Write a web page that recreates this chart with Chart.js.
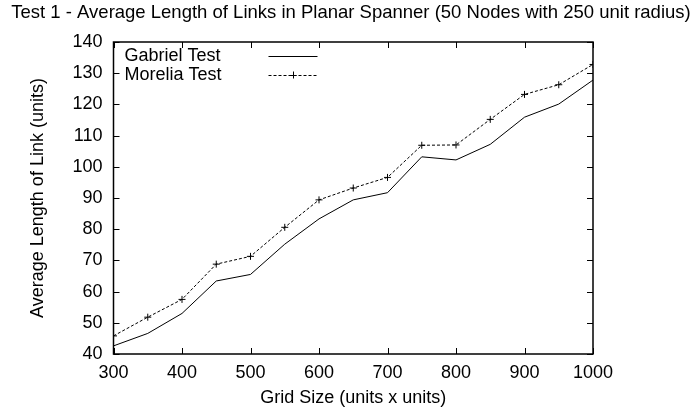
<!DOCTYPE html>
<html>
<head>
<meta charset="utf-8">
<script src="https://cdn.jsdelivr.net/npm/chart.js@4/dist/chart.umd.min.js"></script>
<style>
  html, body { margin: 0; padding: 0; background: #fff; }
  #wrap { width: 694px; height: 413px; }
</style>
</head>
<body>
<div id="wrap"><canvas id="c" width="694" height="413"></canvas></div>
<script>
const chartTitle = "Test 1 - Average Length of Links in Planar Spanner (50 Nodes with 250 unit radius)";
const xAxisTitle = "Grid Size (units x units)";
const yAxisTitle = "Average Length of Link (units)";
const seriesNames = ["Gabriel Test", "Morelia Test"];
const gridSizes = [300, 350, 400, 450, 500, 550, 600, 650, 700, 750, 800, 850, 900, 950, 1000];
const gabriel = [42.6, 46.6, 53.0, 63.4, 65.5, 75.2, 83.3, 89.4, 91.7, 103.2, 102.2, 107.2, 115.9, 120.1, 127.8];
const morelia = [45.8, 51.8, 57.5, 68.8, 71.3, 80.6, 89.4, 93.2, 96.6, 106.9, 107.0, 115.2, 123.2, 126.3, 132.8];
const xMin = 300, xMax = 1000, xStep = 100;
const yMin = 40, yMax = 140, yStep = 10;

const FONT = "'Liberation Sans', Arial, sans-serif";
const FS = 18;

const toPts = (vals) => vals.map((v, i) => ({ x: gridSizes[i], y: v }));

const gnuplotDecor = {
  id: 'gnuplotDecor',
  afterDatasetsDraw(chart) {
    const ctx = chart.ctx;
    const a = chart.chartArea;
    const xs = chart.scales.x, ys = chart.scales.y;
    ctx.save();
    ctx.strokeStyle = '#000';
    ctx.lineWidth = 1;
    const tl = 6;
    xs.ticks.forEach(t => {
      const px = Math.round(xs.getPixelForValue(t.value)) + 0.5;
      ctx.beginPath();
      ctx.moveTo(px, a.bottom); ctx.lineTo(px, a.bottom - tl);
      ctx.moveTo(px, a.top); ctx.lineTo(px, a.top + tl);
      ctx.stroke();
    });
    ys.ticks.forEach(t => {
      const py = Math.round(ys.getPixelForValue(t.value)) + 0.5;
      ctx.beginPath();
      ctx.moveTo(a.left, py); ctx.lineTo(a.left + tl, py);
      ctx.moveTo(a.right, py); ctx.lineTo(a.right - tl, py);
      ctx.stroke();
    });
    ctx.lineWidth = 1.5;
    ctx.strokeRect(a.left, a.top, a.right - a.left, a.bottom - a.top);

    ctx.fillStyle = '#000';
    ctx.font = '18.5px ' + FONT;
    ctx.textAlign = 'center';
    ctx.textBaseline = 'middle';
    ctx.fillText(chartTitle, 351, 13);

    ctx.font = FS + 'px ' + FONT;
    const ds = chart.data.datasets;
    const rowY = [a.top + 14, a.top + 33];
    const textX = a.left + 11;
    const sx0 = a.left + 155, sx1 = a.left + 204;
    ds.forEach((d, i) => {
      const y = rowY[i];
      ctx.fillStyle = '#000';
      ctx.textAlign = 'left';
      ctx.textBaseline = 'middle';
      ctx.fillText(d.label, textX, y);
      ctx.strokeStyle = d.borderColor;
      ctx.lineWidth = d.borderWidth;
      ctx.setLineDash(d.borderDash || []);
      ctx.beginPath();
      ctx.moveTo(sx0, y + 0.5); ctx.lineTo(sx1, y + 0.5);
      ctx.stroke();
      ctx.setLineDash([]);
      if (d.pointRadius > 0) {
        const cx = (sx0 + sx1) / 2, r = d.pointRadius;
        ctx.lineWidth = 1;
        ctx.beginPath();
        ctx.moveTo(cx - r, y + 0.5); ctx.lineTo(cx + r, y + 0.5);
        ctx.moveTo(cx + 0.5, y - r); ctx.lineTo(cx + 0.5, y + r);
        ctx.stroke();
      }
    });
    ctx.restore();
  }
};

new Chart(document.getElementById('c'), {
  type: 'line',
  data: {
    datasets: [
      {
        label: seriesNames[0],
        data: toPts(gabriel),
        borderColor: '#000',
        borderWidth: 1,
        pointRadius: 0,
        fill: false,
        tension: 0
      },
      {
        label: seriesNames[1],
        data: toPts(morelia),
        borderColor: '#000',
        borderWidth: 1,
        borderDash: [3, 2],
        pointStyle: 'cross',
        pointRadius: 3.5,
        pointBorderWidth: 1,
        pointBorderColor: '#000',
        fill: false,
        tension: 0
      }
    ]
  },
  options: {
    responsive: false,
    animation: false,
    layout: { padding: { left: 0, right: 101, top: 42, bottom: 0 } },
    plugins: {
      legend: { display: false },
      title: { display: false },
      tooltip: { enabled: false }
    },
    scales: {
      x: {
        type: 'linear',
        min: xMin, max: xMax,
        afterFit: (s) => { s.height = 59; },
        ticks: { stepSize: xStep, color: '#000', font: { family: FONT, size: FS }, padding: 8, maxRotation: 0, callback: (v) => String(v) },
        grid: { display: false, drawTicks: false },
        border: { display: false },
        title: { display: true, text: xAxisTitle, color: '#000', font: { family: FONT, size: FS }, padding: { top: 0, bottom: 4 } }
      },
      y: {
        type: 'linear',
        min: yMin, max: yMax,
        afterFit: (s) => { s.width = 113.5; },
        ticks: { stepSize: yStep, color: '#000', font: { family: FONT, size: FS }, padding: 11, callback: (v) => String(v) },
        grid: { display: false, drawTicks: false },
        border: { display: false },
        title: { display: true, text: yAxisTitle, color: '#000', font: { family: FONT, size: FS }, padding: { top: 27, bottom: 0 } }
      }
    }
  },
  plugins: [gnuplotDecor]
});
</script>
</body>
</html>
